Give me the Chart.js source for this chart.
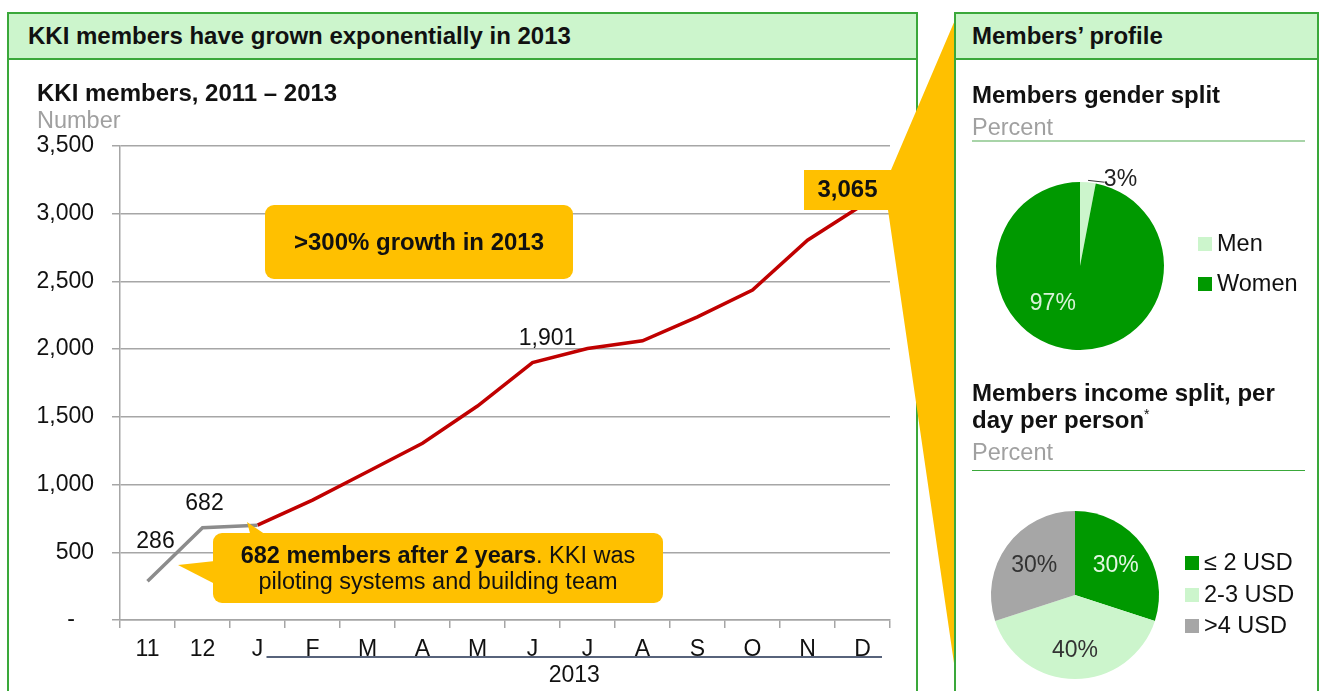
<!DOCTYPE html>
<html>
<head>
<meta charset="utf-8">
<script src="https://cdn.jsdelivr.net/npm/chart.js@4.4.1/dist/chart.umd.min.js"></script>
<style>
  body { margin: 0; width: 1319px; height: 691px; overflow: hidden; background: #fff; position: relative;
         font-family: "Liberation Sans", Arial, sans-serif; color: #111; }
  .panel { position: absolute; border: 2px solid #3aa83a; border-bottom: none; box-sizing: border-box; }
  .hdr { height: 46px; background: #ccf5cc; border-bottom: 2px solid #3aa83a; box-sizing: border-box;
         font-weight: bold; font-size: 24px; line-height: 44px; }
  .txt { position: absolute; font-size: 23.5px; line-height: 26px; white-space: nowrap; z-index: 4; }
  .b { font-weight: bold; font-size: 24px; }
  .sub { color: #a0a0a0; }
  .rule { position: absolute; height: 0; z-index: 4; }
  canvas { position: absolute; }
  .legend { position: absolute; z-index: 4; font-size: 23.5px; }
  .legend div { white-space: nowrap; }
  .legend span { display: inline-block; width: 14px; height: 14px; margin-right: 5px; vertical-align: 0px; }
</style>
</head>
<body>
<div class="panel" style="left:7px;top:12px;width:911px;height:700px;z-index:0">
  <div class="hdr" style="padding-left:19px">KKI members have grown exponentially in 2013</div>
</div>
<div class="panel" style="left:954px;top:12px;width:365px;height:700px;z-index:2">
  <div class="hdr" style="padding-left:16px">Members’ profile</div>
</div>

<div class="txt b" style="left:37px;top:80px">KKI members, 2011 – 2013</div>
<div class="txt sub" style="left:37px;top:107px">Number</div>

<div class="txt b" style="left:972px;top:82px">Members gender split</div>
<div class="txt sub" style="left:972px;top:114px">Percent</div>
<div class="rule" style="left:972px;top:140px;width:333px;border-top:2px solid #a8d4a8"></div>

<div class="txt b" style="left:972px;top:380px">Members income split, per</div>
<div class="txt b" style="left:972px;top:407px">day per person<span style="font-size:14px;font-weight:normal;vertical-align:top;line-height:14px">*</span></div>
<div class="txt sub" style="left:972px;top:439px">Percent</div>
<div class="rule" style="left:972px;top:470px;width:333px;border-top:1.5px solid #3aa83a"></div>

<canvas id="line" width="960" height="691" style="left:0;top:0;z-index:1"></canvas>
<canvas id="gender" width="200" height="200" style="left:980px;top:160px;z-index:3"></canvas>
<canvas id="income" width="200" height="200" style="left:975px;top:495px;z-index:3"></canvas>
<div class="legend" id="genderLegend" style="left:1198px;top:223px;line-height:40px"></div>
<div class="legend" id="incomeLegend" style="left:1185px;top:547px;line-height:31.5px"></div>

<svg width="1319" height="691" style="position:absolute;left:0;top:0;z-index:3">
  <rect x="265" y="205" width="308" height="74" rx="9" fill="#ffc000"/>
  <rect x="213" y="533" width="450" height="70" rx="9" fill="#ffc000"/>
  <polygon points="178,565 215,561 215,584" fill="#ffc000"/>
  <polygon points="247,522 251,537 269,537" fill="#ffc000"/>
</svg>
<div class="txt b" style="left:265px;top:229px;width:308px;text-align:center">&gt;300% growth in 2013</div>
<div class="txt" style="left:213px;top:542px;width:450px;text-align:center;line-height:26px">
  <b>682 members after 2 years</b>. KKI was<br>piloting systems and building team
</div>

<script>
Chart.defaults.font.family = '"Liberation Sans", Arial, sans-serif';

const months = ['11', '12', 'J', 'F', 'M', 'A', 'M', 'J', 'J', 'A', 'S', 'O', 'N', 'D'];
const pilotMembers = [286, 682, 700, null, null, null, null, null, null, null, null, null, null, null];
const members2013 = [null, null, 700, 885, 1095, 1305, 1580, 1901, 2005, 2062, 2238, 2436, 2804, 3065];
const labelledPoints = [[0, 0], [0, 1], [1, 7], [1, 13]]; // [dataset, index]
const yearLabel = '2013';

const genderLabels = ['Men', 'Women'];
const genderValues = [3, 97];
const incomeLabels = ['≤ 2 USD', '2-3 USD', '>4 USD'];
const incomeValues = [30, 40, 30];

const DARK_GREEN = '#009900', LIGHT_GREEN = '#ccf5cc', GREY = '#a6a6a6';
const FONT = '"Liberation Sans", Arial';
const fmt = v => v.toLocaleString('en-US');

// wedge, value labels and the 2013 bracket under the axis
const lineExtras = {
  id: 'lineExtras',
  afterDatasetsDraw(chart) {
    const ctx = chart.ctx;
    ctx.save();
    ctx.fillStyle = '#ffc000';
    ctx.beginPath();
    [[804, 170], [891, 170], [955, 20], [955, 670], [888, 210], [804, 210]]
      .forEach(([x, y], i) => i ? ctx.lineTo(x, y) : ctx.moveTo(x, y));
    ctx.closePath();
    ctx.fill();

    const offs = [[8, -40], [2, -24], [15, -24], [-15, -15]];
    labelledPoints.forEach(([d, i], k) => {
      const pt = chart.getDatasetMeta(d).data[i];
      const v = chart.data.datasets[d].data[i];
      ctx.font = (k === 3 ? 'bold 24px ' : '23px ') + FONT;
      ctx.fillStyle = '#111';
      ctx.textAlign = 'center';
      ctx.textBaseline = 'middle';
      ctx.fillText(fmt(v), pt.x + offs[k][0], pt.y + offs[k][1]);
    });

    const xs = chart.scales.x;
    const x0 = xs.getPixelForValue(2) + 9, x1 = xs.right - 8;
    ctx.strokeStyle = '#1f2f4f';
    ctx.lineWidth = 1.5;
    ctx.beginPath();
    ctx.moveTo(x0, 657);
    ctx.lineTo(x1, 657);
    ctx.stroke();
    ctx.font = '23px ' + FONT;
    ctx.fillText(yearLabel, (x0 + x1) / 2, 676);
    ctx.restore();
  }
};

new Chart(document.getElementById('line'), {
  type: 'line',
  data: {
    labels: months,
    datasets: [
      { data: pilotMembers, borderColor: '#8c8c8c', borderWidth: 3.5, pointRadius: 0, tension: 0 },
      { data: members2013, borderColor: '#c00000', borderWidth: 3.5, pointRadius: 0, tension: 0 }
    ]
  },
  options: {
    responsive: false,
    animation: false,
    layout: { padding: { left: 0, top: 146, right: 70, bottom: 0 } },
    plugins: { legend: { display: false }, tooltip: { enabled: false } },
    scales: {
      x: {
        offset: true,
        grid: { offset: true, drawOnChartArea: false, tickLength: 8, color: '#a6a6a6', lineWidth: 1.5 },
        border: { color: '#a6a6a6', width: 1.5 },
        ticks: { padding: 8, color: '#111', font: { size: 23 }, maxRotation: 0, autoSkip: false },
        afterFit(s) { s.height = 71; }
      },
      y: {
        min: 0, max: 3500,
        grid: { color: '#a6a6a6', lineWidth: 1.5, tickLength: 8 },
        border: { color: '#a6a6a6', width: 1.5 },
        ticks: { stepSize: 500, padding: 18, color: '#111', font: { size: 23 },
                 callback: v => v === 0 ? '-   ' : fmt(v) },
        afterFit(s) { s.width = 120; }
      }
    }
  },
  plugins: [lineExtras]
});

// percent labels on pie slices; pos = [radius fraction, angle from top in degrees] or null for slice middle
const pieLabels = {
  id: 'pieLabels',
  afterDatasetsDraw(chart, args, opts) {
    const ctx = chart.ctx;
    const vals = chart.data.datasets[0].data;
    ctx.save();
    ctx.font = '23px ' + FONT;
    ctx.textAlign = 'center';
    ctx.textBaseline = 'middle';
    chart.getDatasetMeta(0).data.forEach((arc, i) => {
      const p = opts.pos[i];
      const mid = (arc.startAngle + arc.endAngle) / 2;
      const a = p[1] === null ? mid : -Math.PI / 2 + p[1] * Math.PI / 180;
      const r = arc.outerRadius * p[0];
      const x = arc.x + Math.cos(a) * r, y = arc.y + Math.sin(a) * r;
      if (p[0] > 1) {
        ctx.strokeStyle = '#333';
        ctx.lineWidth = 1;
        ctx.beginPath();
        ctx.moveTo(arc.x + Math.cos(mid) * (arc.outerRadius + 2), arc.y + Math.sin(mid) * (arc.outerRadius + 2));
        ctx.lineTo(x - 16, y + 3);
        ctx.stroke();
      }
      ctx.fillStyle = opts.colors[i];
      ctx.fillText(vals[i] + '%', x, y);
    });
    ctx.restore();
  }
};

function pie(id, labels, values, colors, padding, labelOpts) {
  return new Chart(document.getElementById(id), {
    type: 'pie',
    data: { labels, datasets: [{ data: values, backgroundColor: colors, borderWidth: 0 }] },
    options: {
      responsive: false,
      animation: false,
      layout: { padding },
      plugins: { legend: { display: false }, tooltip: { enabled: false }, pieLabels: labelOpts }
    },
    plugins: [pieLabels]
  });
}

function legend(id, labels, colors) {
  document.getElementById(id).innerHTML = labels
    .map((l, i) => `<div><span style="background:${colors[i]}"></span>${l}</div>`).join('');
}

const genderColors = [LIGHT_GREEN, DARK_GREEN];
const incomeColors = [DARK_GREEN, LIGHT_GREEN, GREY];

pie('gender', genderLabels, genderValues, genderColors, { left: 16, right: 16, top: 22, bottom: 10 },
    { pos: [[1.14, 25], [0.55, 216]], colors: ['#222', '#d8f2d8'] });
pie('income', incomeLabels, incomeValues, incomeColors, 16,
    { pos: [[0.6, null], [0.66, null], [0.6, null]], colors: ['#e3f7e3', '#333', '#333'] });

legend('genderLegend', genderLabels, genderColors);
legend('incomeLegend', incomeLabels, incomeColors);
</script>
</body>
</html>
